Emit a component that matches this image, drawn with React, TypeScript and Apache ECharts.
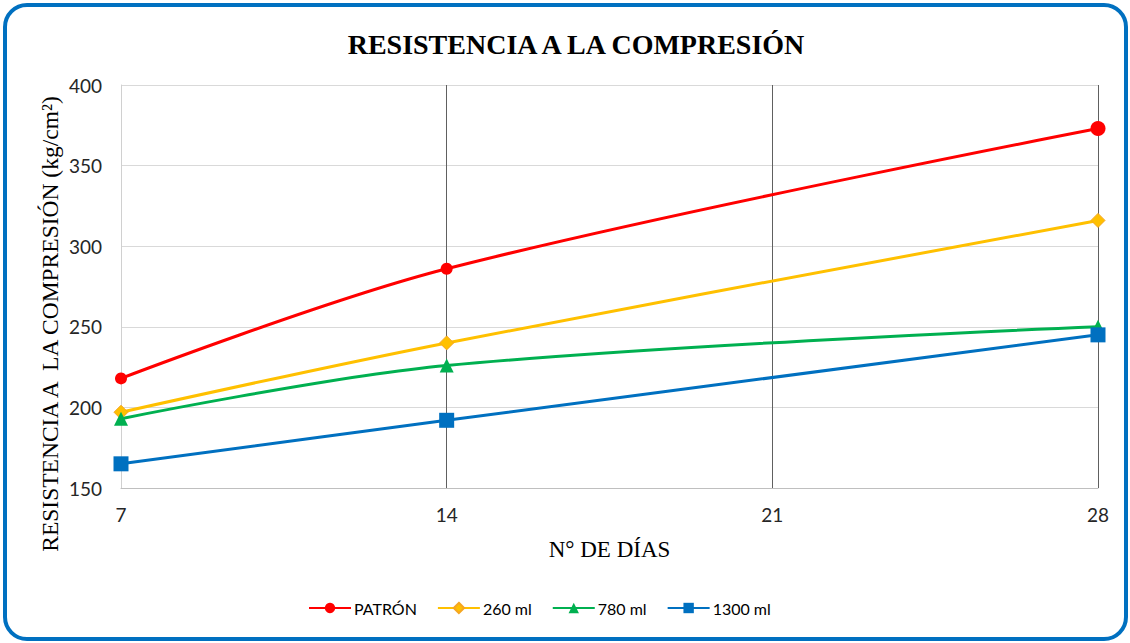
import React, { useEffect, useRef } from "react";
import * as echarts from "echarts";

const days = [7, 14, 28];
const patron = [218, 286, 373];
const ml260 = [197, 240, 316];
const ml780 = [193, 226, 250];
const ml1300 = [165, 192, 245];
const seriesNames = ["PATRÓN", "260 ml", "780 ml", "1300 ml"];

const pairs = (ys: number[]) => days.map((d, i) => [d, ys[i]]);

export default function App() {
  const ref = useRef<HTMLDivElement>(null);

  useEffect(() => {
    if (!ref.current) return;
    const chart = echarts.init(ref.current, null, { renderer: "svg" });
    const labelFont = "Lato, 'Open Sans', sans-serif";
    const serif = "'Liberation Serif', 'DejaVu Serif', serif";

    const mk = (
      name: string,
      ys: number[],
      color: string,
      symbol: string,
      size: number | ((v: any, p: any) => number),
      border?: string
    ) => ({
      name,
      type: "line",
      data: pairs(ys),
      smooth: 0.35,
      symbol,
      symbolSize: size,
      showAllSymbol: true,
      lineStyle: { color, width: 3 },
      itemStyle: border
        ? { color, borderColor: border, borderWidth: 1 }
        : { color },
      z: 3,
    });

    chart.setOption({
      animation: false,
      backgroundColor: "#ffffff",
      title: {
        text: "RESISTENCIA A LA COMPRESIÓN",
        left: 571,
        top: 25,
        textAlign: "center",
        textStyle: {
          fontFamily: serif,
          fontSize: 28,
          fontWeight: "bold",
          color: "#000000",
        },
      },
      graphic: [
        {
          type: "rect",
          shape: { x: 5, y: 5, width: 1121, height: 634, r: 22 },
          style: { fill: "none", stroke: "#0070c0", lineWidth: 4 },
          silent: true,
          z: 10,
        },
        {
          type: "text",
          x: 50,
          y: 324,
          rotation: Math.PI / 2,
          style: {
            text: "RESISTENCIA A  LA COMPRESIÓN (kg/cm²)",
            fontFamily: serif,
            fontSize: 23.5,
            fill: "#000000",
            align: "center",
            verticalAlign: "middle",
          },
        },
      ],
      grid: { left: 121, right: 32, top: 85, bottom: 155 },
      legend: {
        bottom: 22,
        left: 303,
        itemWidth: 42,
        itemHeight: 13,
        itemGap: 20,
        data: seriesNames,
        textStyle: { fontFamily: labelFont, fontSize: 16, color: "#000000", padding: [0, 0, 0, -2] },
      },
      xAxis: {
        type: "value",
        min: 7,
        max: 28,
        interval: 7,
        name: "N° DE DÍAS",
        nameLocation: "middle",
        nameGap: 50,
        nameTextStyle: { fontFamily: serif, fontSize: 23, color: "#000000" },
        axisLine: { show: true, lineStyle: { color: "#bfbfbf", width: 1 } },
        axisTick: { show: false },
        axisLabel: {
          fontFamily: labelFont,
          fontSize: 19,
          color: "#262626",
          margin: 17,
        },
        splitLine: {
          show: true,
          showMinLine: false,
          lineStyle: { color: "#606060", width: 1 },
        },
      },
      yAxis: {
        type: "value",
        min: 150,
        max: 400,
        interval: 50,
        axisLine: { show: true, lineStyle: { color: "#d0d0d0", width: 1 } },
        axisTick: { show: false },
        axisLabel: {
          fontFamily: labelFont,
          fontSize: 19,
          color: "#262626",
          margin: 19,
        },
        splitLine: { show: true, lineStyle: { color: "#d9d9d9", width: 1 } },
      },
      series: [
        mk(seriesNames[0], patron, "#ff0000", "circle", (_v: any, p: any) =>
          p && p.dataIndex === days.length - 1 ? 15 : 12
        ),
        mk(seriesNames[1], ml260, "#ffc000", "diamond", 14, "#f5a623"),
        mk(seriesNames[2], ml780, "#00b050", "triangle", 14),
        mk(seriesNames[3], ml1300, "#0070c0", "rect", 15),
      ],
    });
    return () => chart.dispose();
  }, []);

  return (
    <div
      ref={ref}
      style={{ position: "fixed", left: 0, top: 0, width: 1130, height: 643 }}
    />
  );
}
